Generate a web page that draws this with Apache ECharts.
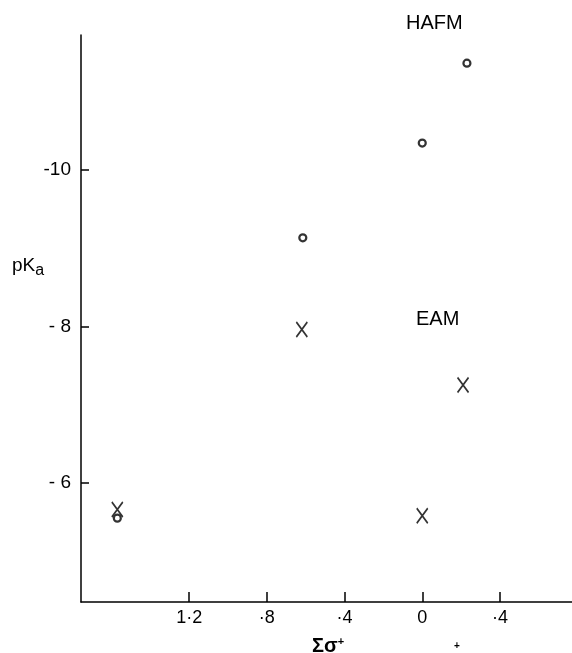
<!DOCTYPE html>
<html>
<head>
<meta charset="utf-8">
<script src="https://cdn.jsdelivr.net/npm/echarts@6/dist/echarts.min.js"></script>
<style>
  html, body { margin: 0; padding: 0; background: #fff; }
  #chart_pKa { width: 572px; height: 653px; }
</style>
</head>
<body>
<div id="chart_pKa"></div>
<script>
// pKa against sum of sigma+ : HAFM (circles) and EAM (crosses)
var hafmX = [1.57, 0.615, 0, -0.23];
var hafmY = [-5.55, -9.13, -10.34, -11.36];
var eamX = [1.57, 0.62, 0, -0.21];
var eamY = [-5.66, -7.96, -5.58, -7.25];

var xTicks = [1.2, 0.8, 0.4, 0, -0.4];
var xTickLabels = ['1·2', '·8', '·4', '0', '·4'];
var yTicks = [-10, -8, -6];
var yTickLabels = ['-10', '- 8', '- 6'];

var font = 'Liberation Sans';
var ink = '#000';

function pairs(xs, ys) {
    return xs.map(function (x, i) { return [x, ys[i]]; });
}

var dom = document.getElementById('chart_pKa');
var myChart_pKa = echarts.init(dom, null, { renderer: 'canvas' });

var option = {
    backgroundColor: '#fff',
    animation: false,
    grid: { left: 81, right: 0, top: 35, bottom: 51 },
    xAxis: {
        type: 'value',
        inverse: true,
        min: -0.771,
        max: 1.757,
        splitLine: { show: false },
        axisLine: { onZero: false, lineStyle: { color: ink, width: 1.5 } },
        axisTick: {
            inside: true, length: 10, customValues: xTicks,
            lineStyle: { color: ink, width: 1.5 }
        },
        axisLabel: {
            customValues: xTicks,
            margin: 7,
            color: ink,
            fontFamily: font,
            fontSize: 18,
            formatter: function (v) {
                var i = xTicks.indexOf(v);
                return i >= 0 ? xTickLabels[i] : '';
            }
        }
    },
    yAxis: {
        type: 'value',
        inverse: true,
        min: -11.72,
        max: -4.48,
        splitLine: { show: false },
        axisLine: { onZero: false, lineStyle: { color: ink, width: 1.5 } },
        axisTick: {
            inside: true, length: 8, customValues: yTicks,
            lineStyle: { color: ink, width: 1.5 }
        },
        axisLabel: {
            customValues: yTicks,
            margin: 10,
            color: ink,
            fontFamily: font,
            fontSize: 19,
            formatter: function (v) {
                var i = yTicks.indexOf(v);
                return i >= 0 ? yTickLabels[i] : '';
            }
        }
    },
    series: [
        {
            name: 'HAFM',
            type: 'scatter',
            data: pairs(hafmX, hafmY),
            symbol: 'circle',
            symbolSize: 7,
            itemStyle: { color: '#fff', borderColor: ink, borderWidth: 2.2 }
        },
        {
            name: 'EAM',
            type: 'scatter',
            data: pairs(eamX, eamY),
            symbol: 'path://M0,0L10,14M10,0L0,14',
            symbolSize: [11, 15],
            itemStyle: { color: 'none', borderColor: ink, borderWidth: 1.8 }
        }
    ],
    graphic: [
        {
            type: 'text', left: 12, top: 256,
            style: {
                text: '{m|pK}{s|a}',
                rich: {
                    m: { fontFamily: font, fontSize: 19, fill: ink },
                    s: { fontFamily: font, fontSize: 16, fill: ink, padding: [10, 0, 0, 0] }
                }
            }
        },
        {
            type: 'text', left: 406, top: 13,
            style: { text: 'HAFM', fontFamily: font, fontSize: 20, fill: ink }
        },
        {
            type: 'text', left: 416, top: 309,
            style: { text: 'EAM', fontFamily: font, fontSize: 20, fill: ink }
        },
        {
            type: 'text', left: 312, top: 636,
            style: {
                text: '{m|Σσ}{s|+}',
                rich: {
                    m: { fontFamily: font, fontSize: 20, fontWeight: 'bold', fill: ink },
                    s: { fontFamily: font, fontSize: 11, fontWeight: 'bold', fill: ink, padding: [0, 0, 8, 0] }
                }
            }
        },
        {
            type: 'text', left: 454, top: 641,
            style: { text: '+', fontFamily: font, fontSize: 10, fontWeight: 'bold', fill: ink }
        }
    ]
};

if (option && typeof option === 'object') {
    myChart_pKa.setOption(option);
}
</script>
</body>
</html>
